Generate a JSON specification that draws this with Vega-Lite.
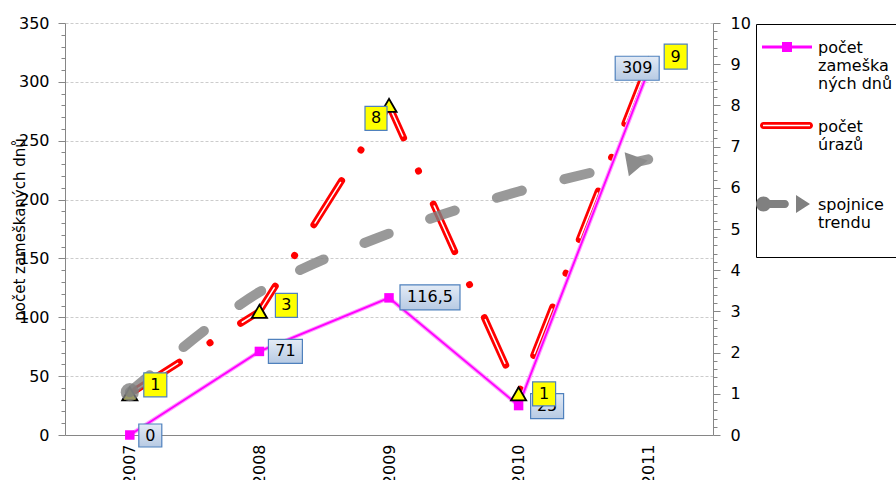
{
  "$schema": "https://vega.github.io/schema/vega-lite/v6.json",
  "width": 648,
  "height": 412,
  "autosize": {"type": "none"},
  "padding": {"left": 65, "top": 23, "right": 183, "bottom": 45},
  "background": "white",
  "datasets": {
    "d": [
      {"year": 2007, "dny": 0, "urazy": 1, "trend": 1.04, "ld": "0", "lu": "1"},
      {"year": 2008, "dny": 71, "urazy": 3, "trend": 3.47, "ld": "71", "lu": "3"},
      {"year": 2009, "dny": 116.5, "urazy": 8, "trend": 4.89, "ld": "116,5", "lu": "8"},
      {"year": 2010, "dny": 25, "urazy": 1, "trend": 5.91, "ld": "25", "lu": "1"},
      {"year": 2011, "dny": 309, "urazy": 9, "trend": 6.69, "ld": "309", "lu": "9"}
    ],
    "leg": [
      {"s": "počet zameškaných dnů", "s2": "počet zameškaných dnů"},
      {"s": "počet úrazů", "s2": "počet úrazů"},
      {"s": "spojnice trendu", "s2": "spojnice trendu"}
    ]
  },
  "data": {"name": "d"},
  "encoding": {
    "x": {
      "field": "year", "type": "quantitative",
      "scale": {"domain": [2006.5, 2011.5], "nice": false, "zero": false},
      "axis": {"values": [2007, 2008, 2009, 2010, 2011], "format": "d", "labelAngle": -90, "ticks": false, "tickSize": 0, "labelPadding": 9, "grid": false, "title": null, "labelFontSize": 16, "labelOverlap": false}
    }
  },
  "layer": [
    {
      "encoding": {
        "y": {
          "field": "urazy", "type": "quantitative",
          "scale": {"domain": [0, 10], "nice": false},
          "axis": {
            "orient": "right",
            "values": [0,0.2,0.4,0.6,0.8,1,1.2,1.4,1.6,1.8,2,2.2,2.4,2.6,2.8,3,3.2,3.4,3.6,3.8,4,4.2,4.4,4.6,4.8,5,5.2,5.4,5.6,5.8,6,6.2,6.4,6.6,6.8,7,7.2,7.4,7.6,7.8,8,8.2,8.4,8.6,8.8,9,9.2,9.4,9.6,9.8,10],
            "labelExpr": "datum.value % 1 === 0 ? format(datum.value, 'd') : ''",
            "tickSize": {"condition": {"test": "datum.value % 1 === 0", "value": 7}, "value": 4},
            "labelPadding": 10, "grid": false, "title": null, "labelFontSize": 16, "labelOverlap": false, "labelFlush": false
          }
        }
      },
      "layer": [
        {"mark": {"type": "line", "stroke": "#ff0000", "strokeWidth": 7, "strokeDash": [52, 36.25, 0.1, 36.25], "strokeDashOffset": -6.75, "strokeCap": "round", "strokeJoin": "round"}},
        {"mark": {"type": "line", "stroke": "#ffffff", "strokeWidth": 1.5, "strokeDash": [48, 76.6], "strokeDashOffset": -8.75, "strokeCap": "round", "strokeJoin": "round"}}
      ]
    },
    {
      "encoding": {
        "y": {
          "field": "dny", "type": "quantitative",
          "scale": {"domain": [0, 350], "nice": false},
          "axis": {
            "orient": "left",
            "values": [0,10,20,30,40,50,60,70,80,90,100,110,120,130,140,150,160,170,180,190,200,210,220,230,240,250,260,270,280,290,300,310,320,330,340,350],
            "labelExpr": "datum.value % 50 === 0 ? datum.label : ''",
            "tickSize": {"condition": {"test": "datum.value % 50 === 0", "value": 7}, "value": 4},
            "labelPadding": 9, "labelOverlap": false, "labelFlush": false,
            "grid": true, "gridColor": "#cccccc", "gridDash": [3, 2],
            "gridOpacity": {"condition": {"test": "datum.value % 50 === 0 && datum.value > 0", "value": 1}, "value": 0},
            "title": "počet zameškaných dnů", "titleFontSize": 15, "titleX": -46, "titleY": 206, "titleAngle": -90, "titleAlign": "center", "titleBaseline": "middle",
            "labelFontSize": 16
          }
        }
      },
      "layer": [
        {"mark": {"type": "line", "stroke": "#ff99ff", "strokeWidth": 4}},
        {"mark": {"type": "line", "stroke": "#ff00ff", "strokeWidth": 1.8}},
        {"mark": {"type": "point", "shape": "square", "filled": true, "fill": "#ff00ff", "size": 90, "opacity": 1}}
      ]
    },
    {
      "mark": {"type": "point", "shape": "triangle-up", "filled": true, "fill": "#ffff00", "stroke": "#000000", "strokeWidth": 1.8, "size": 230, "opacity": 1},
      "encoding": {"y": {"field": "urazy", "type": "quantitative", "scale": {"domain": [0, 10], "nice": false}, "axis": null}}
    },
    {
      "encoding": {"y": {"field": "trend", "type": "quantitative", "scale": {"domain": [0, 10], "nice": false}, "axis": null}},
      "layer": [
        {"mark": {"type": "line", "interpolate": "monotone", "stroke": "#808080", "strokeWidth": 10, "strokeDash": [26, 44], "strokeCap": "round", "opacity": 0.8}},
        {"transform": [{"filter": "datum.year == 2007"}], "mark": {"type": "point", "shape": "circle", "filled": true, "fill": "#808080", "size": 330, "opacity": 0.8}},
        {"transform": [{"filter": "datum.year == 2011"}], "mark": {"type": "point", "shape": "triangle-right", "filled": true, "fill": "#8c8c8c", "size": 600, "angle": -10, "xOffset": -11, "yOffset": 3, "opacity": 1}}
      ]
    },
    {
      "encoding": {"y": {"field": "dny", "type": "quantitative", "scale": {"domain": [0, 350], "nice": false}, "axis": null}},
      "layer": [
        {"transform": [{"filter": "datum.year == 2007"}], "layer": [
          {"mark": {"type": "rect", "xOffset": 9, "x2Offset": 32, "yOffset": -11, "y2Offset": 12, "fill": {"gradient": "linear", "x1": 0, "y1": 0, "x2": 0, "y2": 1, "stops": [{"offset": 0, "color": "#e3ebf6"}, {"offset": 1, "color": "#b7cae3"}]}, "stroke": "#4f81bd", "strokeWidth": 1.2}, "encoding": {"x2": {"field": "year"}, "y2": {"field": "dny"}}},
          {"mark": {"type": "text", "dx": 20.5, "dy": 0.5, "font": "DejaVu Sans", "fontSize": 16, "fill": "#000000"}, "encoding": {"text": {"field": "ld"}}}
        ]},
        {"transform": [{"filter": "datum.year == 2008"}], "layer": [
          {"mark": {"type": "rect", "xOffset": 9, "x2Offset": 43, "yOffset": -12, "y2Offset": 12, "fill": {"gradient": "linear", "x1": 0, "y1": 0, "x2": 0, "y2": 1, "stops": [{"offset": 0, "color": "#e3ebf6"}, {"offset": 1, "color": "#b7cae3"}]}, "stroke": "#4f81bd", "strokeWidth": 1.2}, "encoding": {"x2": {"field": "year"}, "y2": {"field": "dny"}}},
          {"mark": {"type": "text", "dx": 26, "dy": 0, "font": "DejaVu Sans", "fontSize": 16, "fill": "#000000"}, "encoding": {"text": {"field": "ld"}}}
        ]},
        {"transform": [{"filter": "datum.year == 2009"}], "layer": [
          {"mark": {"type": "rect", "xOffset": 11, "x2Offset": 71, "yOffset": -13, "y2Offset": 12, "fill": {"gradient": "linear", "x1": 0, "y1": 0, "x2": 0, "y2": 1, "stops": [{"offset": 0, "color": "#e3ebf6"}, {"offset": 1, "color": "#b7cae3"}]}, "stroke": "#4f81bd", "strokeWidth": 1.2}, "encoding": {"x2": {"field": "year"}, "y2": {"field": "dny"}}},
          {"mark": {"type": "text", "dx": 41, "dy": -0.5, "font": "DejaVu Sans", "fontSize": 16, "fill": "#000000"}, "encoding": {"text": {"field": "ld"}}}
        ]},
        {"transform": [{"filter": "datum.year == 2010"}], "layer": [
          {"mark": {"type": "rect", "xOffset": 12, "x2Offset": 45, "yOffset": -12, "y2Offset": 13, "fill": {"gradient": "linear", "x1": 0, "y1": 0, "x2": 0, "y2": 1, "stops": [{"offset": 0, "color": "#e3ebf6"}, {"offset": 1, "color": "#b7cae3"}]}, "stroke": "#4f81bd", "strokeWidth": 1.2}, "encoding": {"x2": {"field": "year"}, "y2": {"field": "dny"}}},
          {"mark": {"type": "text", "dx": 28.5, "dy": 0.5, "font": "DejaVu Sans", "fontSize": 16, "fill": "#000000"}, "encoding": {"text": {"field": "ld"}}}
        ]},
        {"transform": [{"filter": "datum.year == 2011"}], "layer": [
          {"mark": {"type": "rect", "xOffset": -33, "x2Offset": 11, "yOffset": -15, "y2Offset": 9, "fill": {"gradient": "linear", "x1": 0, "y1": 0, "x2": 0, "y2": 1, "stops": [{"offset": 0, "color": "#e3ebf6"}, {"offset": 1, "color": "#b7cae3"}]}, "stroke": "#4f81bd", "strokeWidth": 1.2}, "encoding": {"x2": {"field": "year"}, "y2": {"field": "dny"}}},
          {"mark": {"type": "text", "dx": -11, "dy": -3, "font": "DejaVu Sans", "fontSize": 16, "fill": "#000000"}, "encoding": {"text": {"field": "ld"}}}
        ]}
      ]
    },
    {
      "encoding": {"y": {"field": "urazy", "type": "quantitative", "scale": {"domain": [0, 10], "nice": false}, "axis": null}},
      "layer": [
        {"transform": [{"filter": "datum.year == 2007"}], "layer": [
          {"mark": {"type": "rect", "xOffset": 14, "x2Offset": 37, "yOffset": -21, "y2Offset": 3, "fill": "#ffff00", "stroke": "#4f81bd", "strokeWidth": 1.2}, "encoding": {"x2": {"field": "year"}, "y2": {"field": "urazy"}}},
          {"mark": {"type": "text", "dx": 25.5, "dy": -9, "font": "DejaVu Sans", "fontSize": 16, "fill": "#000000"}, "encoding": {"text": {"field": "lu"}}}
        ]},
        {"transform": [{"filter": "datum.year == 2008"}], "layer": [
          {"mark": {"type": "rect", "xOffset": 16, "x2Offset": 38, "yOffset": -18, "y2Offset": 6, "fill": "#ffff00", "stroke": "#4f81bd", "strokeWidth": 1.2}, "encoding": {"x2": {"field": "year"}, "y2": {"field": "urazy"}}},
          {"mark": {"type": "text", "dx": 27, "dy": -6, "font": "DejaVu Sans", "fontSize": 16, "fill": "#000000"}, "encoding": {"text": {"field": "lu"}}}
        ]},
        {"transform": [{"filter": "datum.year == 2009"}], "layer": [
          {"mark": {"type": "rect", "xOffset": -24, "x2Offset": -2, "yOffset": 1, "y2Offset": 25, "fill": "#ffff00", "stroke": "#4f81bd", "strokeWidth": 1.2}, "encoding": {"x2": {"field": "year"}, "y2": {"field": "urazy"}}},
          {"mark": {"type": "text", "dx": -13, "dy": 13, "font": "DejaVu Sans", "fontSize": 16, "fill": "#000000"}, "encoding": {"text": {"field": "lu"}}}
        ]},
        {"transform": [{"filter": "datum.year == 2010"}], "layer": [
          {"mark": {"type": "rect", "xOffset": 14, "x2Offset": 37, "yOffset": -12, "y2Offset": 12, "fill": "#ffff00", "stroke": "#4f81bd", "strokeWidth": 1.2}, "encoding": {"x2": {"field": "year"}, "y2": {"field": "urazy"}}},
          {"mark": {"type": "text", "dx": 25.5, "dy": 0, "font": "DejaVu Sans", "fontSize": 16, "fill": "#000000"}, "encoding": {"text": {"field": "lu"}}}
        ]},
        {"transform": [{"filter": "datum.year == 2011"}], "layer": [
          {"mark": {"type": "rect", "xOffset": 16, "x2Offset": 39, "yOffset": -20, "y2Offset": 5, "fill": "#ffff00", "stroke": "#4f81bd", "strokeWidth": 1.2}, "encoding": {"x2": {"field": "year"}, "y2": {"field": "urazy"}}},
          {"mark": {"type": "text", "dx": 27.5, "dy": -7.5, "font": "DejaVu Sans", "fontSize": 16, "fill": "#000000"}, "encoding": {"text": {"field": "lu"}}}
        ]}
      ]
    },
    {
      "data": {"name": "leg"},
      "transform": [{"filter": "false"}],
      "mark": {"type": "point", "filled": true, "opacity": 1},
      "encoding": {
        "color": {
          "field": "s", "type": "nominal",
          "scale": {"domain": ["počet zameškaných dnů", "počet úrazů", "spojnice trendu"], "range": ["#ff00ff", "#ff0000", "#808080"]},
          "legend": {"orient": "none", "legendX": 691, "legendY": 1, "title": null, "symbolSize": 144, "symbolStrokeWidth": 0, "symbolOpacity": 1, "labelFont": "DejaVu Sans", "labelFontSize": 16, "labelBaseline": "top", "labelOffset": 38, "labelColor": "#000000", "padding": 8, "strokeColor": "#000000", "fillColor": "#ffffff", "rowPadding": 18.5, "zindex": 1,
            "labelExpr": "datum.label == 'počet zameškaných dnů' ? ['počet','zameška','ných dnů'] : datum.label == 'počet úrazů' ? ['počet','úrazů',' '] : ['spojnice','trendu',' ']"}
        },
        "shape": {
          "field": "s", "type": "nominal",
          "scale": {"domain": ["počet zameškaných dnů", "počet úrazů", "spojnice trendu"], "range": [
            "M-1.667,0.917H6.667V1.417H-1.667ZM1.667,0.333H3.333V2H1.667Z",
            "M-1.417,0.583H6.25A0.583,0.583 0 0 1 6.25,1.75H-1.417A0.583,0.583 0 0 1 -1.417,0.583ZM-1.5,1.042V1.292H6.333V1.042Z",
            "M-2.667,1.167A1.25,1.25 0 1 1 -0.167,1.167A1.25,1.25 0 1 1 -2.667,1.167ZM-0.667,0.5H2.167A0.667,0.667 0 0 1 2.167,1.833H-0.667ZM4,-0.333L6.333,1.167L4,2.667Z"
          ]},
          "legend": {"orient": "none", "legendX": 691, "legendY": 1, "title": null, "symbolSize": 144, "symbolStrokeWidth": 0, "symbolOpacity": 1, "labelFont": "DejaVu Sans", "labelFontSize": 16, "labelBaseline": "top", "labelOffset": 38, "labelColor": "#000000", "padding": 8, "strokeColor": "#000000", "fillColor": "#ffffff", "rowPadding": 18.5, "zindex": 1,
            "labelExpr": "datum.label == 'počet zameškaných dnů' ? ['počet','zameška','ných dnů'] : datum.label == 'počet úrazů' ? ['počet','úrazů',' '] : ['spojnice','trendu',' ']"}
        }
      }
    },
    {
      "data": {"name": "leg"},
      "transform": [{"filter": "false"}],
      "mark": {"type": "point", "filled": true, "opacity": 1, "shape": "M2.5,0.333L3.5,1.833L1.5,1.833Z"},
      "encoding": {
        "fill": {
          "field": "s2", "type": "nominal",
          "scale": {"domain": ["počet zameškaných dnů", "počet úrazů", "spojnice trendu"], "range": ["transparent", "#ffff00", "transparent"]},
          "legend": {"orient": "none", "legendX": 691, "legendY": 1, "title": null, "symbolSize": 144, "symbolStrokeWidth": 0, "symbolOpacity": 1, "symbolType": "M2.5,0.333L3.5,1.833L1.5,1.833Z", "labelFont": "DejaVu Sans", "labelFontSize": 16, "labelBaseline": "top", "labelOffset": 38, "labelColor": "transparent", "padding": 8, "rowPadding": 18.5, "zindex": 2,
            "labelExpr": "datum.label == 'počet zameškaných dnů' ? ['počet','zameška','ných dnů'] : datum.label == 'počet úrazů' ? ['počet','úrazů',' '] : ['spojnice','trendu',' ']"}
        },
        "stroke": {
          "field": "s2", "type": "nominal",
          "scale": {"domain": ["počet zameškaných dnů", "počet úrazů", "spojnice trendu"], "range": ["transparent", "#000000", "transparent"]},
          "legend": {"orient": "none", "legendX": 691, "legendY": 1, "title": null, "symbolSize": 144, "symbolStrokeWidth": 0, "symbolOpacity": 1, "symbolType": "M2.5,0.333L3.5,1.833L1.5,1.833Z", "labelFont": "DejaVu Sans", "labelFontSize": 16, "labelBaseline": "top", "labelOffset": 38, "labelColor": "transparent", "padding": 8, "rowPadding": 18.5, "zindex": 2,
            "labelExpr": "datum.label == 'počet zameškaných dnů' ? ['počet','zameška','ných dnů'] : datum.label == 'počet úrazů' ? ['počet','úrazů',' '] : ['spojnice','trendu',' ']"}
        }
      }
    }
  ],
  "resolve": {"scale": {"y": "independent"}},
  "config": {
    "font": "DejaVu Sans",
    "view": {"stroke": null},
    "axis": {"labelFont": "DejaVu Sans", "labelColor": "#000000", "domainColor": "#868686", "tickColor": "#868686", "titleFont": "DejaVu Sans", "titleFontWeight": "normal", "titleColor": "#000000"}
  }
}
